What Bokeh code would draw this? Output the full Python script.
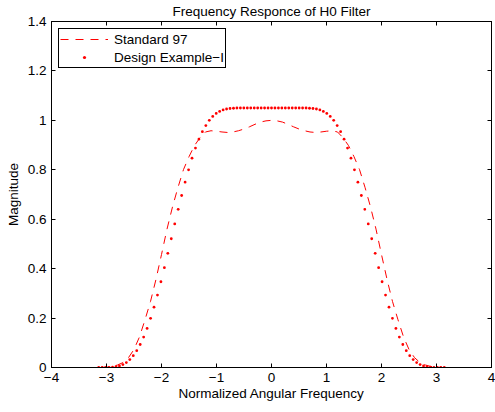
import numpy as np
from bokeh.plotting import figure
from bokeh.models import Range1d, FixedTicker, LinearAxis, Legend, LegendItem
from bokeh.embed import file_html
from bokeh.resources import INLINE

title_text = "Frequency Responce of H0 Filter"
x_label = "Normalized Angular Frequency"
y_label = "Magnitude"
series_names = ["Standard 97", "Design Example\u2212I"]

x_ticks = [-4, -3, -2, -1, 0, 1, 2, 3, 4]
x_tick_labels = ["\u22124", "\u22123", "\u22122", "\u22121", "0", "1", "2", "3", "4"]
y_ticks = [0, 0.2, 0.4, 0.6, 0.8, 1, 1.2, 1.4]
y_tick_labels = ["0", "0.2", "0.4", "0.6", "0.8", "1", "1.2", "1.4"]

# Standard 97 (dashed), sampled every 0.1 from -3.1 to 3.1
std_x = np.round(np.arange(-31, 32) / 10.0, 1)
std_y = [
    0.000, 0.001, 0.004, 0.010, 0.020, 0.040, 0.073, 0.124, 0.193, 0.267,
    0.357, 0.457, 0.560, 0.650, 0.729, 0.801, 0.853, 0.898, 0.930, 0.953,
    0.958, 0.956, 0.953, 0.951, 0.953, 0.958, 0.965, 0.974, 0.984, 0.993,
    0.998,
    1.000,
    0.998, 0.993, 0.984, 0.974, 0.965, 0.958, 0.953, 0.951, 0.953, 0.956,
    0.958, 0.953, 0.930, 0.898, 0.853, 0.801, 0.729, 0.650, 0.560, 0.457,
    0.357, 0.267, 0.193, 0.124, 0.073, 0.040, 0.020, 0.010, 0.004, 0.001,
    0.000,
]

# Design Example-I (dots), 101 samples over [-pi, pi]
design_x = np.linspace(-np.pi, np.pi, 101)
design_y = [
    0, 0, 0, 0, 0.001, 0.003, 0.006, 0.012, 0.020, 0.032,
    0.048, 0.068, 0.093, 0.123, 0.158, 0.199, 0.244, 0.293, 0.347, 0.404,
    0.462, 0.521, 0.581, 0.640, 0.696, 0.750, 0.800, 0.847, 0.888, 0.924,
    0.954, 0.979, 1.000, 1.016, 1.028, 1.036, 1.042, 1.046, 1.048, 1.049,
    1.05, 1.05, 1.05, 1.05, 1.05, 1.05, 1.05, 1.05, 1.05, 1.05, 1.05,
    1.05, 1.05, 1.05, 1.05, 1.05, 1.05, 1.05, 1.05, 1.05, 1.05,
    1.049, 1.048, 1.046, 1.042, 1.036, 1.028, 1.016, 1.000, 0.979, 0.954,
    0.924, 0.888, 0.847, 0.800, 0.750, 0.696, 0.640, 0.581, 0.521, 0.462,
    0.404, 0.347, 0.293, 0.244, 0.199, 0.158, 0.123, 0.093, 0.068, 0.048,
    0.032, 0.020, 0.012, 0.006, 0.003, 0.001, 0, 0, 0, 0,
]

FONT = "Liberation Sans"
FS = "13.5px"

p = figure(width=495, height=412, x_range=Range1d(-4, 4), y_range=Range1d(0, 1.4),
           output_backend="svg", toolbar_location=None,
           min_border_left=51, min_border_right=4, min_border_top=21, min_border_bottom=45)
p.background_fill_color = "white"
p.border_fill_color = "white"
p.xgrid.visible = False
p.ygrid.visible = False
p.outline_line_color = "black"
p.outline_line_alpha = 1.0
p.outline_line_width = 1

p.title.text = title_text
p.title.align = "center"
p.title.vertical_align = "top"
p.title.standoff = 2
p.title.text_font = FONT
p.title.text_font_size = FS
p.title.text_font_style = "normal"
p.title.text_color = "black"

def style_axis(ax, ticks, labels, show_labels=True):
    ax.ticker = FixedTicker(ticks=ticks)
    ax.major_tick_in = 4
    ax.major_tick_out = 0
    ax.minor_tick_in = 0
    ax.minor_tick_out = 0
    ax.axis_line_color = "black"
    ax.major_tick_line_color = "black"
    ax.major_label_text_font = FONT
    ax.major_label_text_color = "black"
    ax.axis_label_text_font = FONT
    ax.axis_label_text_font_size = FS
    ax.axis_label_text_font_style = "normal"
    ax.axis_label_text_color = "black"
    if show_labels:
        ax.major_label_overrides = dict(zip(ticks, labels))
        ax.major_label_text_font_size = FS
    else:
        ax.major_label_overrides = {t: "" for t in ticks}
        ax.major_label_text_font_size = "1px"
        ax.major_label_standoff = 0

style_axis(p.xaxis[0], x_ticks, x_tick_labels)
style_axis(p.yaxis[0], y_ticks, y_tick_labels)
p.xaxis[0].axis_label = x_label
p.yaxis[0].axis_label = y_label
p.xaxis[0].axis_label_standoff = 1
p.yaxis[0].axis_label_standoff = 4

top_axis = LinearAxis()
style_axis(top_axis, x_ticks, x_tick_labels, show_labels=False)
p.add_layout(top_axis, "above")
right_axis = LinearAxis()
style_axis(right_axis, y_ticks, y_tick_labels, show_labels=False)
p.add_layout(right_axis, "right")

r1 = p.line(std_x, std_y, line_color="red", line_width=1, line_dash="8 7")
r2 = p.scatter(design_x, design_y, size=2.8, marker="circle",
               fill_color="red", line_color=None)

legend = Legend(items=[LegendItem(label=series_names[0], renderers=[r1]),
                       LegendItem(label=series_names[1], renderers=[r2])],
                location="top_left", margin=7, padding=1, spacing=0,
                label_height=18, glyph_height=8, glyph_width=48, label_standoff=6,
                border_line_color="black", border_line_width=1, border_line_alpha=1.0,
                background_fill_color="white", background_fill_alpha=1.0,
                label_text_font=FONT, label_text_font_size=FS, label_text_color="black")
p.add_layout(legend)

open("out.html", "w").write(file_html(p, INLINE))
